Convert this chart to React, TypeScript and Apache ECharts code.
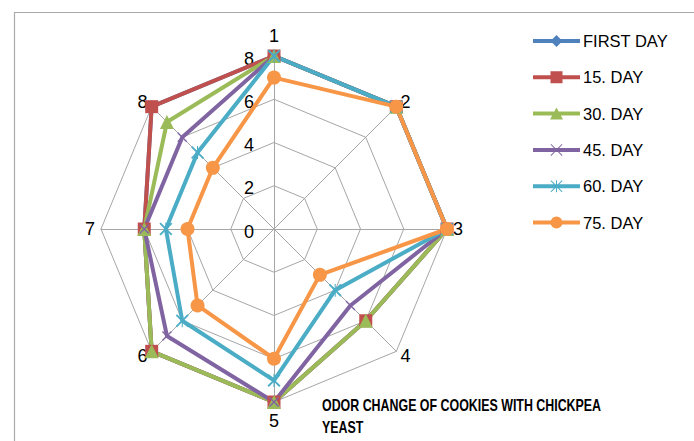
import React, { useEffect, useRef } from "react";
import * as echarts from "echarts";

const axisNames = ["1", "2", "3", "4", "5", "6", "7", "8"];
const seriesNames = ["FIRST DAY", "15. DAY", "30. DAY", "45. DAY", "60. DAY", "75. DAY"];
const firstDay = [8, 8, 8, 6, 8, 8, 6, 8];
const day15 = [8, 8, 8, 6, 8, 8, 6, 8];
const day30 = [8, 8, 8, 6, 8, 8, 6, 7];
const day45 = [8, 8, 8, 5, 8, 7, 6, 6];
const day60 = [8, 8, 8, 4, 7, 6, 5, 5];
const day75 = [7, 8, 8, 3, 6, 5, 4, 4];
const axisMax = 8;
const titleText = "ODOR CHANGE OF COOKIES WITH CHICKPEA\nYEAST";

const colors = ["#4F81BD", "#C0504D", "#9BBB59", "#8064A2", "#4BACC6", "#F79646"];

const LINE = "M0 5 H47 V9 H0 Z ";
const legendIcons = [
  "path://" + LINE + "M23.5 1 L29.5 7 L23.5 13 L17.5 7 Z",
  "path://" + LINE + "M17.5 1 H29.5 V13 H17.5 Z",
  "path://" + LINE + "M23.5 1 L30 13 L17 13 Z",
  "path://" + LINE + "M17.5 1.7 L18.2 1 L23.5 6.3 L28.8 1 L29.5 1.7 L24.2 7 L29.5 12.3 L28.8 13 L23.5 7.7 L18.2 13 L17.5 12.3 L22.8 7 Z",
  "path://" + LINE + "M17.5 1.7 L18.2 1 L23.5 6.3 L28.8 1 L29.5 1.7 L24.2 7 L29.5 12.3 L28.8 13 L23.5 7.7 L18.2 13 L17.5 12.3 L22.8 7 Z M23 1 H24 V13 H23 Z",
  "path://" + LINE + "M17.5 7 A6 6 0 1 1 29.5 7 A6 6 0 1 1 17.5 7 Z",
];

const X_SYM = "path://M0 1 L1 0 L5 4 L9 0 L10 1 L6 5 L10 9 L9 10 L5 6 L1 10 L0 9 L4 5 Z";
const STAR_SYM = "path://M0 1 L1 0 L5 4 L9 0 L10 1 L6 5 L10 9 L9 10 L5 6 L1 10 L0 9 L4 5 Z M4.6 0 H5.4 V10 H4.6 Z";
const symbols = ["diamond", "rect", "triangle", X_SYM, STAR_SYM, "circle"];
const symbolSizes = [13, 13, 14, 10, 13, 14];

// ECharts radar runs counter-clockwise; reference runs clockwise
const order = [0, 7, 6, 5, 4, 3, 2, 1];

export default function App() {
  const ref = useRef<HTMLDivElement>(null);
  useEffect(() => {
    const chart = echarts.init(ref.current!, null, { renderer: "svg" });
    const allData = [firstDay, day15, day30, day45, day60, day75];
    const indicator = order.map((i, k) => {
      const ind: any = { name: axisNames[i], max: axisMax, min: 0 };
      if (k === 0) {
        ind.nameGap = 11;
        ind.axisLabel = {
          show: true,
          color: "#000",
          fontSize: 18,
          fontFamily: "Liberation Sans, Arial, sans-serif",
          margin: 20,
          formatter: "{v|{value}}",
          rich: {
            v: {
              color: "#000",
              fontSize: 18,
              fontFamily: "Liberation Sans, Arial, sans-serif",
              padding: [5, 0, 0, 0],
            },
          },
        };
      }
      if (i === 4) ind.nameGap = 10;
      return ind;
    });
    chart.setOption({
      animation: false,
      backgroundColor: "#fff",
      legend: {
        orient: "vertical",
        left: 533,
        top: 32.5,
        itemWidth: 47,
        itemHeight: 12,
        itemGap: 19.3,
        padding: 0,
        textStyle: {
          fontFamily: "Liberation Sans, Arial, sans-serif",
          fontSize: 16.5,
          color: "#000",
          padding: [0, 0, 0, -2],
        },
        data: seriesNames.map((n, i) => ({
          name: n,
          icon: legendIcons[i],
          itemStyle: { color: colors[i] },
        })),
      },
      graphic: [
        {
          type: "polyline",
          shape: { points: [[14.5, 441], [14.5, 12.5], [694, 12.5]] },
          style: { stroke: "#aaaaaa", lineWidth: 1.2, fill: "none" },
          silent: true,
        },
        {
          type: "text",
          x: 322,
          y: 394.5,
          scaleX: 0.73,
          silent: true,
          style: {
            text: titleText,
            fill: "#000",
            font: "bold 17px 'Liberation Sans', Arial, sans-serif",
            lineHeight: 22,
            textAlign: "left",
            textVerticalAlign: "top",
          },
        },
      ],
      radar: {
        center: [274, 229],
        radius: 173,
        startAngle: 90,
        splitNumber: 4,
        shape: "polygon",
        axisNameGap: 6,
        axisName: {
          color: "#000",
          fontSize: 18,
          fontFamily: "Liberation Sans, Arial, sans-serif",
        },
        axisLine: { lineStyle: { color: "#a6a6a6", width: 1 } },
        splitLine: { lineStyle: { color: "#a6a6a6", width: 1 } },
        splitArea: { show: false },
        axisLabel: { show: false },
        axisTick: { show: false },
        indicator,
      },
      series: [
        {
          type: "radar",
          data: allData.map((d, i) => ({
            name: seriesNames[i],
            value: order.map((k) => d[k]),
            symbol: symbols[i],
            symbolSize: symbolSizes[i],
            lineStyle: { color: colors[i], width: 4 },
            itemStyle: { color: colors[i] },
          })),
        },
      ],
    });
    return () => chart.dispose();
  }, []);
  return (
    <div
      ref={ref}
      style={{ position: "fixed", left: 0, top: 0, width: 694, height: 441 }}
    />
  );
}
